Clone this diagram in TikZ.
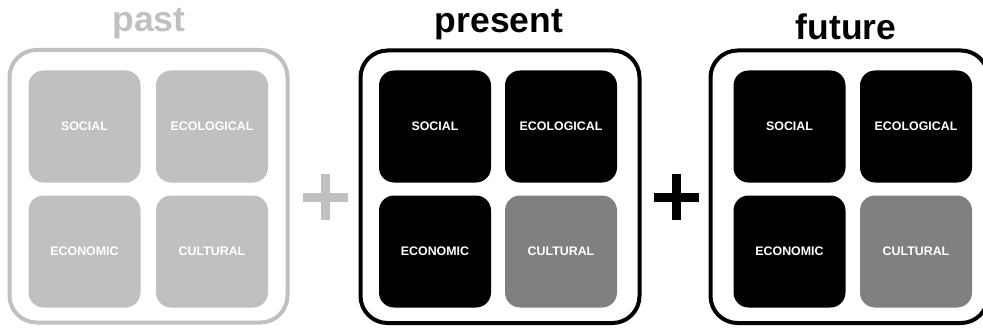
\documentclass[tikz,border=0pt]{standalone}
\usepackage{fontspec}
\setmainfont{Liberation Sans}
\definecolor{lightgrey}{HTML}{C0C0C0}
\definecolor{midgrey}{HTML}{808080}
\tikzset{
  outerbox/.style={draw, line width=4pt, rounded corners=27pt, inner sep=0pt, outer sep=0pt},
  cell/.style={rounded corners=15pt, minimum width=112pt, minimum height=112pt, inner sep=0pt,
               font=\fontsize{12.4}{14}\selectfont\bfseries, text=white},
  title/.style={anchor=base, inner sep=0pt, font=\fontsize{35.5}{40}\selectfont\bfseries},
  plusbox/.style={minimum width=45pt, minimum height=46pt, inner sep=0pt, outer sep=0pt},
  plusbar/.style={line width=9pt, line cap=butt}
}
\begin{document}
\begin{tikzpicture}[x=1pt, y=-1pt]
\useasboundingbox (0,0) rectangle (983,329);
% titles
\node[title, text=lightgrey] (tpast) at (149,32) {past};
\node[title] (tpresent) at (499,33) {present};
\node[title] (tfuture) at (846,40) {future};
% outer boxes
\node[outerbox, draw=lightgrey, minimum width=278pt, minimum height=272.5pt] (opast) at (148.5,186.25) {};
\node[outerbox, draw=black, minimum width=279pt, minimum height=272.5pt] (opresent) at (500,186.75) {};
\node[outerbox, draw=black, minimum width=277.5pt, minimum height=272.5pt] (ofuture) at (849.25,186.75) {};
% past cells
\node[cell, fill=lightgrey] (pa1) at (84.5,126.5) {SOCIAL};
\node[cell, fill=lightgrey] (pa2) at (212,126.5) {ECOLOGICAL};
\node[cell, fill=lightgrey] (pa3) at (84.5,251.5) {ECONOMIC};
\node[cell, fill=lightgrey] (pa4) at (212,251.5) {CULTURAL};
% present cells
\node[cell, fill=black] (pr1) at (435,126.5) {SOCIAL};
\node[cell, fill=black] (pr2) at (561,126.5) {ECOLOGICAL};
\node[cell, fill=black] (pr3) at (435,251.5) {ECONOMIC};
\node[cell, fill=midgrey] (pr4) at (561,251.5) {CULTURAL};
% future cells
\node[cell, fill=black] (fu1) at (789.5,126.5) {SOCIAL};
\node[cell, fill=black] (fu2) at (916,126.5) {ECOLOGICAL};
\node[cell, fill=black] (fu3) at (789.5,251.5) {ECONOMIC};
\node[cell, fill=midgrey] (fu4) at (916,251.5) {CULTURAL};
% plus signs
\node[plusbox] (plus1) at (325,197) {};
\draw[plusbar, lightgrey] (plus1.west) -- (plus1.east) (plus1.north) -- (plus1.south);
\node[plusbox] (plus2) at (676,197) {};
\draw[plusbar, black] (plus2.west) -- (plus2.east) (plus2.north) -- (plus2.south);
\end{tikzpicture}
\end{document}
